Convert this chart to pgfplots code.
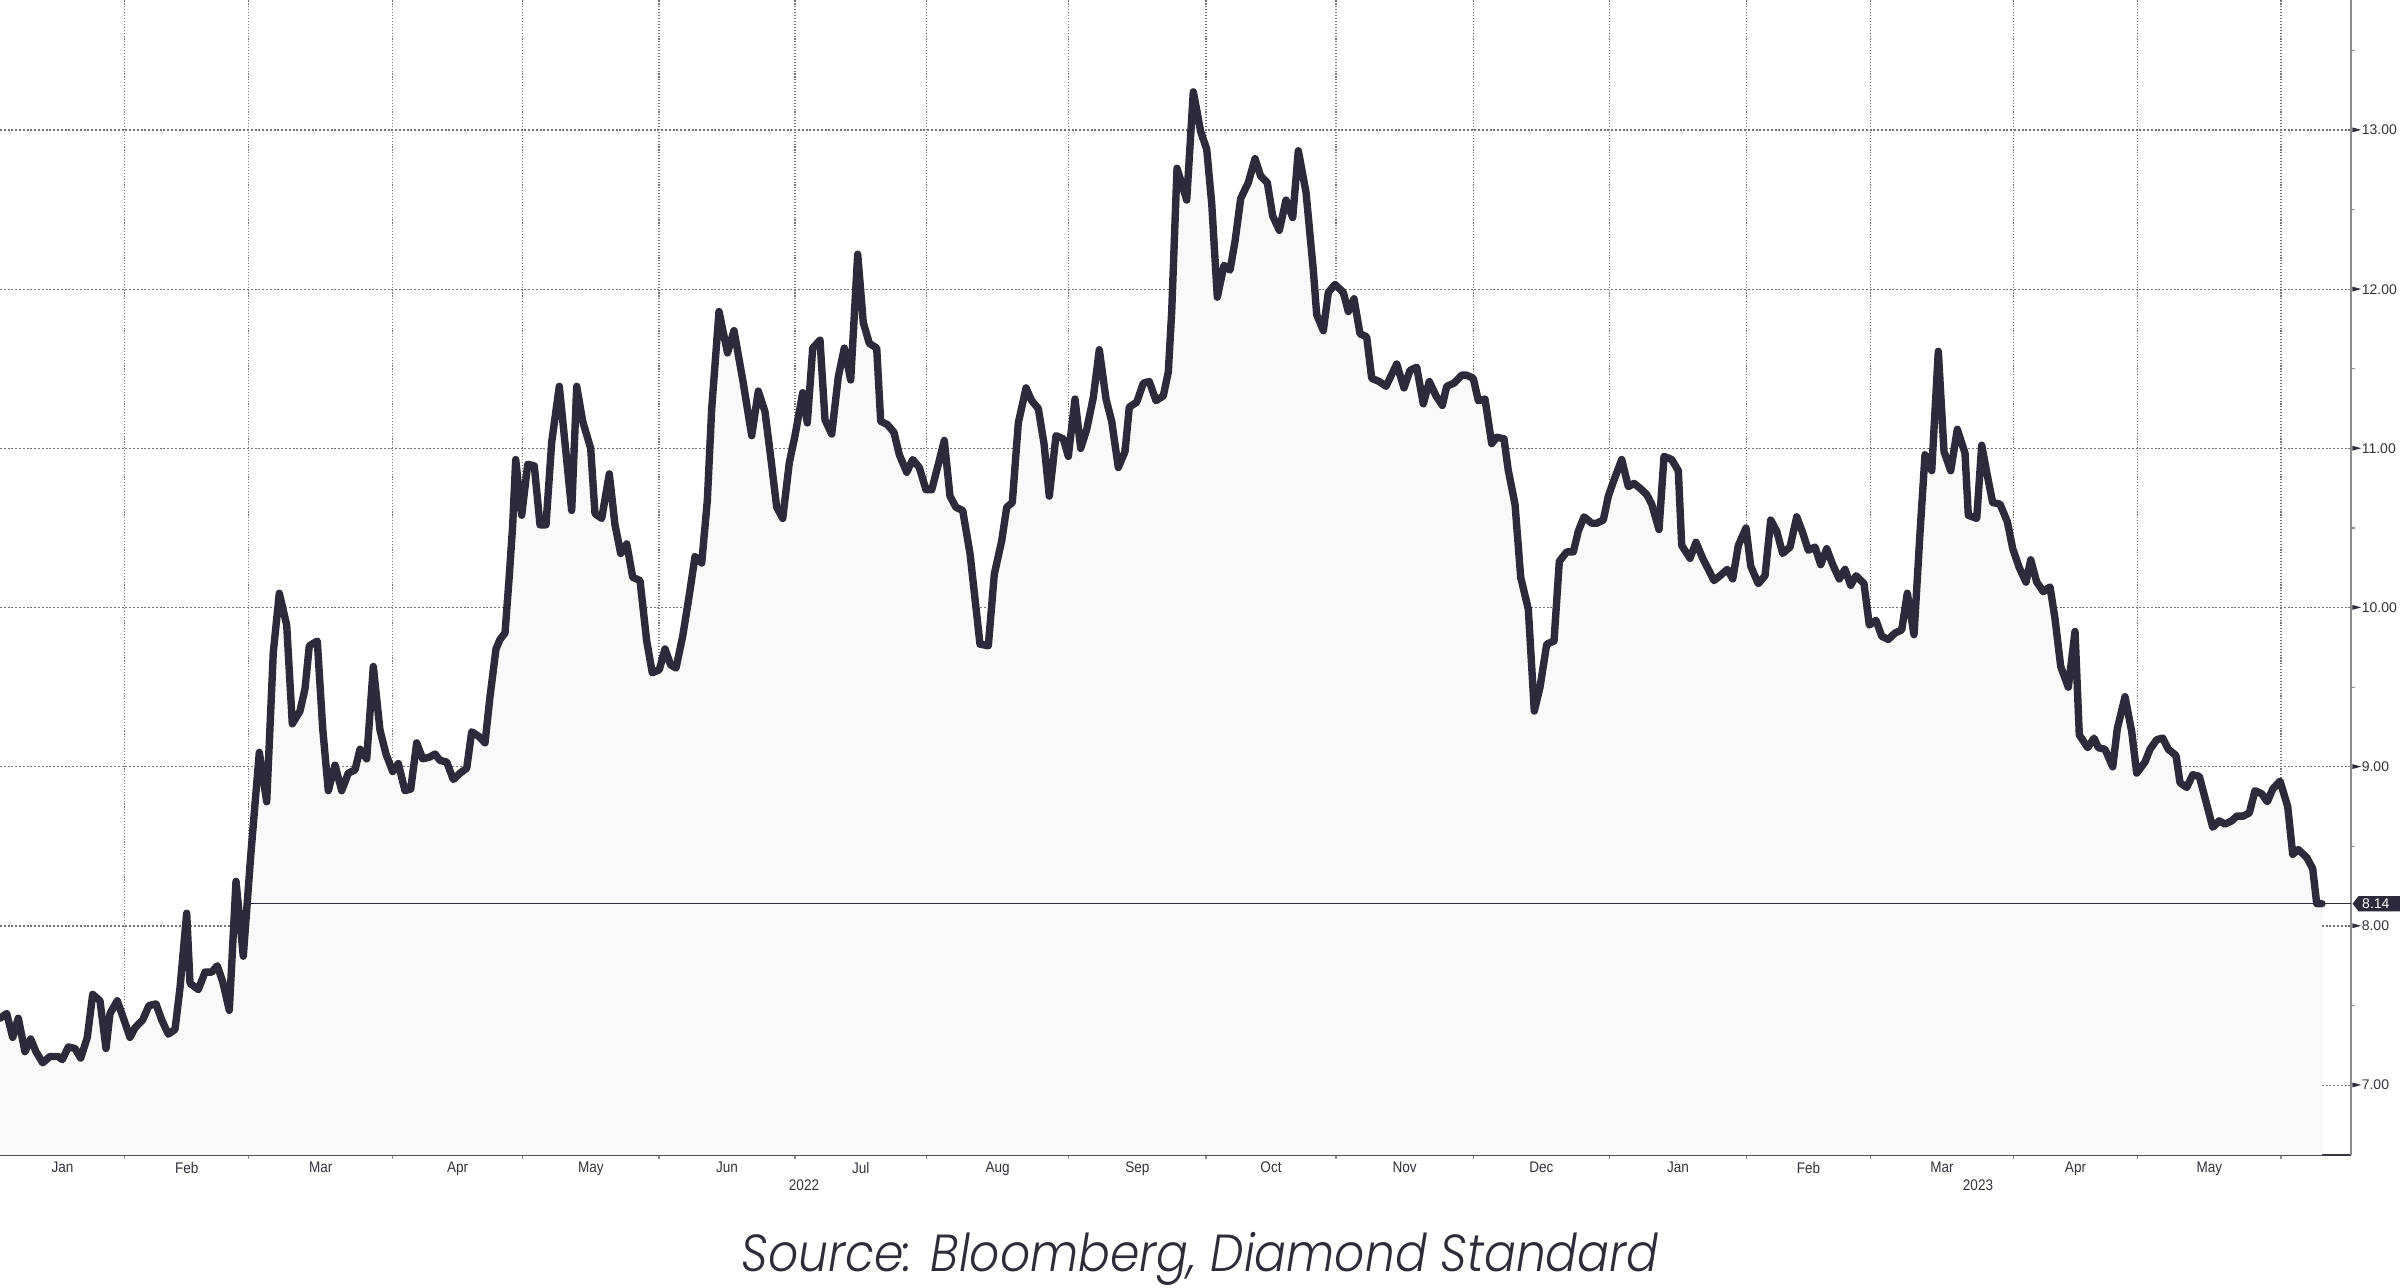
\documentclass[border=0pt]{standalone}
\usepackage{pgfplots}
\pgfplotsset{compat=1.18}
\usepackage{pgfplotstable}
\usepackage{graphicx}
\usepackage{fontspec}
\newfontfamily\labfont{Liberation Sans}
\newfontfamily\monthfont{Liberation Sans}[FakeStretch=0.88]
\newfontfamily\srcfont{Poppins}[UprightFont={* Light}, ItalicFont={* Light Italic}]
\definecolor{linec}{RGB}{43,43,59}
\definecolor{fillc}{RGB}{249,249,249}
\definecolor{gridc}{RGB}{115,115,120}
\definecolor{axisdark}{RGB}{55,55,68}
\definecolor{axisgray}{RGB}{140,140,140}
\definecolor{txtc}{RGB}{50,50,62}
\definecolor{srcc}{RGB}{45,45,58}

% x = position along the trading-day axis (about 6.21 units per trading day), v = price
\pgfplotstableread{
x v
0 7.42
6.7 7.45
12.7 7.30
18.3 7.42
25 7.21
30.7 7.29
36 7.21
42.7 7.14
50 7.18
58.3 7.18
62.3 7.16
68.3 7.24
75 7.23
80.7 7.17
87.3 7.30
92.7 7.57
100 7.53
106 7.23
110 7.45
117.3 7.53
124 7.41
130 7.30
135 7.36
142.7 7.41
149 7.50
156 7.51
161.7 7.41
168.3 7.32
175 7.35
180 7.61
186.7 8.08
190 7.64
198.3 7.60
205 7.71
211.7 7.71
217.3 7.75
222.7 7.65
229.3 7.47
236 8.28
243.3 7.81
250.7 8.44
259.3 9.09
266.7 8.78
273.3 9.72
279.3 10.09
286.7 9.89
292.3 9.27
300 9.35
305 9.49
309.3 9.76
317.3 9.79
322.7 9.24
328.3 8.85
335 9.01
341.7 8.85
348.3 8.96
355 8.98
360 9.11
366.7 9.05
373.3 9.63
380 9.23
386 9.08
392.7 8.97
398.3 9.02
405 8.85
410.7 8.86
416.7 9.15
422.7 9.05
429.3 9.06
435 9.08
440 9.04
446.7 9.03
453.3 8.92
460 8.96
466.7 8.99
471.7 9.22
479 9.19
485 9.15
490 9.44
496 9.74
500 9.80
505 9.84
509.3 10.20
512.7 10.52
515.7 10.93
521.7 10.58
527.7 10.90
534.3 10.89
540 10.52
546 10.52
551.7 11.04
559.3 11.39
565.7 10.99
571.7 10.61
576.7 11.39
582.7 11.17
590.7 11.00
595 10.59
601.7 10.56
609.3 10.84
615 10.52
620.7 10.34
626.7 10.40
632.7 10.19
640 10.17
646.7 9.79
652.3 9.59
659.3 9.61
665 9.74
670.7 9.64
676 9.62
682.7 9.82
689.3 10.08
695 10.32
701.7 10.28
707.3 10.67
711.7 11.25
719 11.86
727.5 11.60
734 11.74
743.3 11.41
751.7 11.08
758.3 11.36
765 11.23
771 10.93
776.7 10.63
782.7 10.56
789.3 10.91
795 11.08
802.7 11.35
807.3 11.16
812.7 11.63
820 11.68
825 11.18
831.7 11.09
838.3 11.45
844.3 11.63
850.7 11.43
857.7 12.22
863.3 11.79
869.3 11.66
876.7 11.63
880.7 11.17
887.3 11.15
894 11.10
899.3 10.96
906.7 10.85
912.7 10.93
919.3 10.88
926 10.74
931.7 10.74
938.3 10.90
944.3 11.05
950 10.70
956 10.63
962.7 10.61
970 10.34
980 9.77
988.3 9.76
994.3 10.21
1001.7 10.42
1006.7 10.63
1012.3 10.66
1018.3 11.16
1026 11.38
1031.7 11.30
1038.3 11.25
1044 11.03
1049.3 10.70
1056 11.08
1063.3 11.06
1068.3 10.95
1075 11.31
1080.7 11.00
1086.7 11.12
1093.3 11.32
1099.3 11.62
1106 11.31
1111.7 11.17
1118.3 10.88
1125 10.98
1129.3 11.26
1136.7 11.29
1143.3 11.41
1149.3 11.42
1156 11.30
1163.3 11.33
1168.3 11.48
1171.7 11.86
1177 12.76
1186.7 12.56
1193.3 13.24
1200.7 12.99
1206.7 12.88
1211.7 12.54
1217.3 11.95
1224 12.15
1230 12.12
1235 12.30
1240.7 12.57
1248.3 12.67
1255 12.82
1260.7 12.71
1267.3 12.67
1272.7 12.46
1279.3 12.37
1286 12.56
1292.7 12.45
1298.3 12.87
1306 12.61
1313.3 12.12
1316.7 11.84
1323.3 11.74
1328.3 11.98
1335 12.03
1343.3 11.98
1348.3 11.86
1354 11.94
1360 11.72
1366.7 11.70
1371.7 11.44
1379.3 11.42
1386 11.39
1396.7 11.53
1404 11.38
1410 11.49
1416.7 11.51
1423.3 11.28
1429.3 11.42
1436 11.33
1442.3 11.27
1446.7 11.39
1454 11.41
1461.7 11.46
1466.7 11.46
1473.3 11.44
1478.3 11.30
1485 11.31
1491.7 11.03
1496.7 11.07
1504 11.06
1508.3 10.86
1515 10.65
1520.7 10.19
1528.3 9.99
1534.3 9.35
1540 9.50
1546.7 9.77
1554 9.79
1559.3 10.29
1566.7 10.35
1573.3 10.35
1578.3 10.48
1584 10.57
1591.7 10.53
1596.7 10.53
1603.3 10.55
1608.3 10.70
1613.3 10.79
1621.7 10.93
1628.3 10.76
1634 10.78
1640 10.75
1646.7 10.71
1651.7 10.65
1659 10.49
1664 10.95
1671.7 10.93
1678.3 10.86
1681.7 10.39
1690 10.31
1696 10.41
1702.7 10.31
1706.7 10.26
1714 10.17
1720 10.20
1727.3 10.24
1732.7 10.18
1738.3 10.39
1746 10.50
1750.7 10.26
1758.3 10.15
1765 10.20
1770.7 10.55
1776.7 10.48
1782.7 10.34
1790 10.38
1796.7 10.57
1802.7 10.47
1808.3 10.36
1815 10.38
1820.7 10.27
1826.7 10.37
1832.7 10.27
1839.3 10.18
1845 10.24
1850.7 10.14
1856 10.20
1864 10.15
1869.3 9.89
1876 9.92
1881.7 9.82
1888.3 9.80
1895 9.84
1901.7 9.86
1907.3 10.09
1914 9.83
1920 10.47
1925 10.96
1931.7 10.86
1938.3 11.61
1944 10.98
1950.7 10.86
1957.3 11.12
1965 10.97
1968.3 10.58
1976.7 10.56
1981.7 11.02
1987.3 10.83
1992.7 10.66
2000 10.65
2007.3 10.54
2012.7 10.37
2019.3 10.25
2026 10.16
2030.7 10.30
2036.7 10.16
2043.3 10.10
2050 10.13
2055 9.93
2060.7 9.63
2068.3 9.50
2075 9.85
2079.3 9.20
2087.7 9.12
2094 9.18
2098.3 9.12
2105 9.11
2112.7 9.00
2117.3 9.24
2125 9.44
2131.7 9.22
2136.7 8.96
2145 9.03
2150 9.11
2156.7 9.17
2162.7 9.18
2168.3 9.11
2176 9.07
2180 8.90
2186.7 8.87
2192.7 8.95
2199.3 8.94
2206 8.78
2212.7 8.62
2219.3 8.66
2225 8.64
2231.7 8.66
2236.7 8.69
2243.3 8.69
2249.3 8.71
2255 8.85
2261.7 8.83
2267.3 8.78
2272.7 8.86
2280 8.91
2287.7 8.75
2292.7 8.45
2298.3 8.48
2306.7 8.43
2312.7 8.36
2316.7 8.14
2322 8.14
}\series

\pgfplotstableread{
x v
250 8.14
2351 8.14
}\lastline

\begin{document}
\begin{tikzpicture}
\path[use as bounding box] (0,0) rectangle (600pt,321.75pt);
\begin{axis}[
  at={(0pt,33pt)}, anchor=south west,
  scale only axis, width=587.75pt, height=288.75pt,
  xmin=0, xmax=2351, ymin=6.561, ymax=13.817,
  clip mode=individual,
  axis x line*=bottom, axis y line*=right,
  x axis line style={-, draw=axisdark, line width=0.55pt},
  y axis line style={-, draw=axisgray, line width=0.5pt},
  xtick pos=bottom, ytick pos=right, yticklabel pos=right,
  tick align=outside,
  major tick length=0pt, minor tick length=0.9pt,
  minor tick style={draw=axisgray, line width=0.3pt},
  xtick={62.5,186.7,320.7,457.7,590.9,727,860.8,997.6,1137.4,1271,1404.7,1541.4,1678,1808.5,1942,2075.5,2209.3},
  xticklabels={Jan,Feb,Mar,Apr,May,Jun,Jul,Aug,Sep,Oct,Nov,Dec,Jan,Feb,Mar,Apr,May},
  minor xtick={124.7,248.7,392.7,522.7,659,795,926.5,1068.7,1206,1336,1473.3,1609.5,1746.5,1870.5,2013.5,2137.5,2281},
  ytick={7,8,9,10,11,12,13},
  minor ytick={7.5,8.5,9.5,10.5,11.5,12.5,13.5},
  xminorgrids=true, ymajorgrids=true, xmajorgrids=false,
  minor x grid style={draw=gridc, line width=0.28pt, dash pattern=on 0.28pt off 0.45pt},
  major y grid style={draw=gridc, line width=0.28pt, dash pattern=on 0.5pt off 0.45pt},
  xticklabel style={font=\monthfont\fontsize{3.85}{4.2}\selectfont, text=txtc, anchor=north, inner sep=0pt, yshift=-1.6pt},
  yticklabel style={font=\labfont\fontsize{3.5}{4}\selectfont, text=txtc, anchor=west, inner sep=0pt, xshift=0.15pt},
  yticklabel={\tikz[baseline=-1.25pt]\fill[linec] (0,0.6pt)--(2.2pt,0)--(0,-0.6pt)--cycle;\hspace{0.15pt}\pgfmathprintnumber[assume math mode=true,fixed,fixed zerofill,precision=2]{\tick}},
]
\addplot[draw=none, fill=fillc] table[x=x, y=v]{\series} \closedcycle;
\addplot[draw=linec, line width=0.3pt] table[x=x, y=v]{\lastline};
\addplot[draw=linec, line width=1.85pt, line join=round, line cap=round] table[x=x, y=v]{\series};
\node[anchor=north, inner sep=0pt, yshift=-6.1pt, text=txtc, font=\monthfont\fontsize{3.85}{4.2}\selectfont] at (axis cs:804,6.561) {2022};
\node[anchor=north, inner sep=0pt, yshift=-6.1pt, text=txtc, font=\monthfont\fontsize{3.85}{4.2}\selectfont] at (axis cs:1978,6.561) {2023};
\fill[linec] ([xshift=0.4pt]axis cs:2351,8.14) -- ([xshift=1.85pt,yshift=1.9pt]axis cs:2351,8.14) -- ([xshift=12.3pt,yshift=1.9pt]axis cs:2351,8.14) -- ([xshift=12.3pt,yshift=-1.9pt]axis cs:2351,8.14) -- ([xshift=1.85pt,yshift=-1.9pt]axis cs:2351,8.14) -- cycle;
\node[anchor=west, inner sep=0pt, text=white, font=\labfont\fontsize{3.5}{4}\selectfont] at ([xshift=2.6pt]axis cs:2351,8.14) {8.14};
\end{axis}
\node[anchor=base, inner sep=0pt, text=srcc] at (300pt,3.9pt) {\resizebox{229.25pt}{9.8pt}{\srcfont\itshape Source: Bloomberg, Diamond Standard}};
\end{tikzpicture}
\end{document}
